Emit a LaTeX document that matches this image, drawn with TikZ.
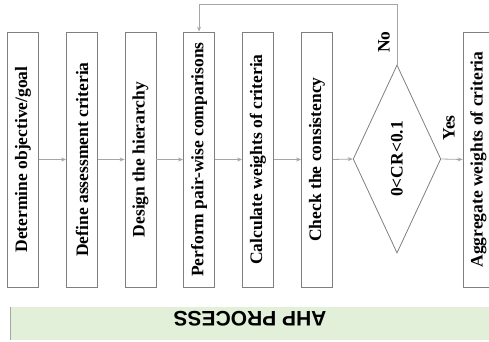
\documentclass[tikz,border=0pt]{standalone}
\usepackage{fontspec}
\setmainfont{Liberation Serif}
\newfontfamily\bannerfont{Liberation Sans}
\usetikzlibrary{shapes.geometric, arrows.meta}
\definecolor{boxgray}{HTML}{7F7F7F}
\definecolor{arrowgray}{HTML}{A6A6A6}
\definecolor{bannergreen}{HTML}{E2F0D9}

\begin{document}
\begin{tikzpicture}[x=1pt, y=1pt,
	stepbox/.style={shape=rectangle, draw=boxgray, line width=0.8pt, rotate=90, minimum width=255pt, minimum height=31pt, inner sep=0pt, font=\fontsize{17.5}{20}\selectfont\bfseries},
	flow/.style={draw=arrowgray, line width=0.8pt, -{Stealth[length=5pt, width=4pt]}},
	tag/.style={rotate=90, inner sep=1pt, font=\fontsize{17.5}{20}\selectfont\bfseries}]
	\useasboundingbox (0,0) rectangle (489,341);
	\clip (0,0) rectangle (489,341);
	% Banner:
	\node[shape=rectangle, fill=bannergreen, minimum width=490pt, minimum height=33pt, anchor=south west, inner sep=0pt] (banner) at (10,1){};
	\draw[arrowgray, line width=1pt] (banner.south west) -- (banner.north west);
	\node[rotate=180, font=\bannerfont\fontsize{21}{24}\selectfont\bfseries] (title) at (250,22){AHP PROCESS};
	% Steps (rotated, so south is the right side and east the top):
	\node[stepbox] (goal) at (23,181.5){Determine objective/goal};
	\node[stepbox] (criteria) at (82,181.5){Define assessment criteria};
	\node[stepbox] (hierarchy) at (140.5,181.5){Design the hierarchy};
	\node[stepbox] (pairwise) at (199,181.5){Perform pair-wise comparisons};
	\node[stepbox] (weights) at (258,181.5){Calculate weights of criteria};
	\node[stepbox] (consist) at (317,181.5){Check the consistency};
	\node[stepbox, shape=diamond, minimum width=188pt, minimum height=78pt] (ratio) at (397,182){0<CR<0.1};
	\node[stepbox] (aggregate) at (478.5,181.5){Aggregate weights of criteria};
	\coordinate (loop) at (397,337);
	% Arrows:
	\draw[flow] (goal.south) -- (criteria.north);
	\draw[flow] (criteria.south) -- (hierarchy.north);
	\draw[flow] (hierarchy.south) -- (pairwise.north);
	\draw[flow] (pairwise.south) -- (weights.north);
	\draw[flow] (weights.south) -- (consist.north);
	\draw[flow] (consist.south) -- (ratio.north);
	\draw[flow] (ratio.south) -- (aggregate.north);
	\draw[flow] (ratio.east) -- (loop) -| (pairwise.east);
	\node[tag] (yes) at (449,213){Yes};
	\node[tag] (no) at (384,299){No};
\end{tikzpicture}
\end{document}
